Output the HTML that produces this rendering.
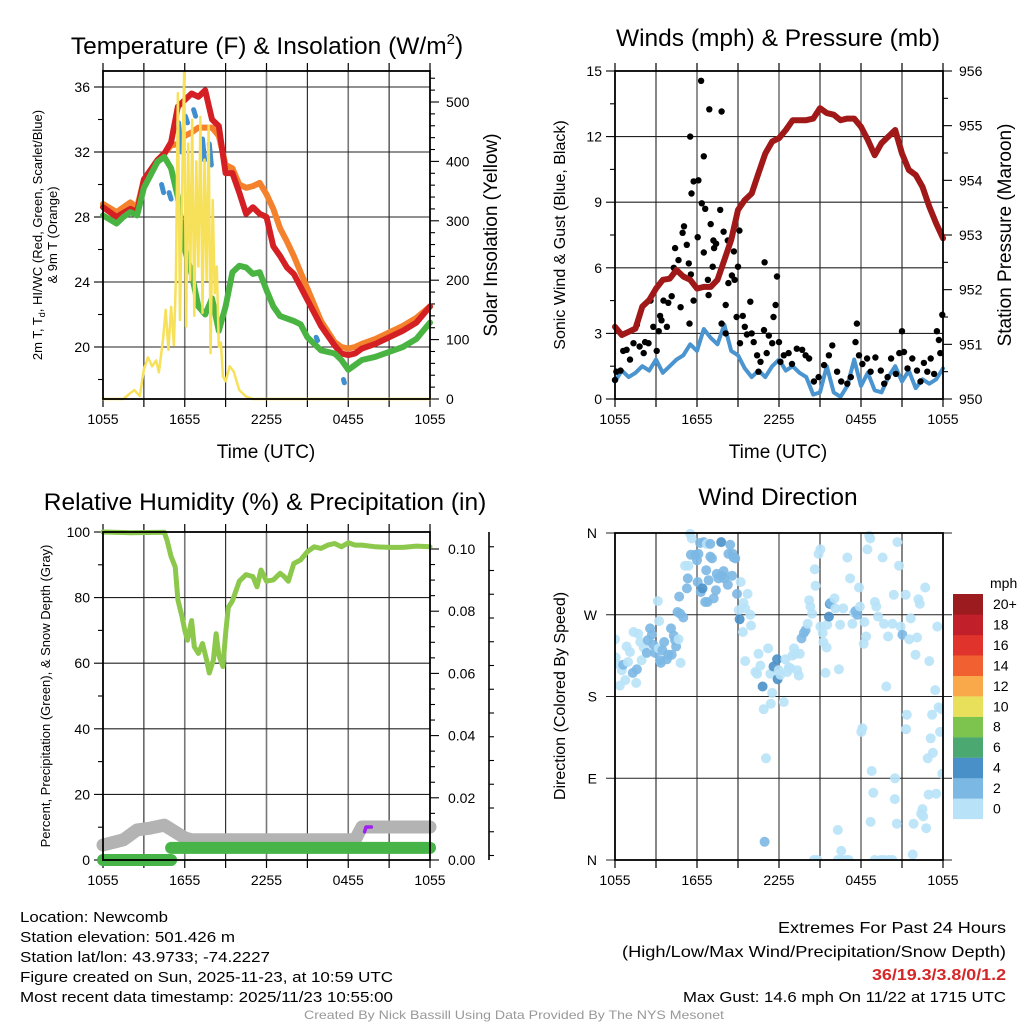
<!DOCTYPE html>
<html><head><meta charset="utf-8">
<style>
html,body{margin:0;padding:0;background:#fff;}
svg{display:block;font-family:"Liberation Sans",sans-serif;}
.nar{font-family:"Liberation Sans Narrow","Liberation Sans",sans-serif;}
</style></head>
<body>
<svg id="chart" xmlns="http://www.w3.org/2000/svg" width="1024" height="1024" viewBox="0 0 1024 1024">
<rect x="0" y="0" width="1024" height="1024" fill="#fff"/>
<g id="g1"></g>
<g id="g2"></g>
<g id="g3"></g>
<g id="g4"></g>

<text x="267" y="54" font-size="24.5" text-anchor="middle">Temperature (F) &amp; Insolation (W/m<tspan dy="-10" font-size="15">2</tspan><tspan dy="10">)</tspan></text>
<text x="778" y="46" font-size="24.5" text-anchor="middle">Winds (mph) &amp; Pressure (mb)</text>
<text x="265" y="510" font-size="24.5" text-anchor="middle">Relative Humidity (%) &amp; Precipitation (in)</text>
<text x="778" y="505" font-size="24.5" text-anchor="middle">Wind Direction</text>

<text transform="translate(42,235) rotate(-90)" font-size="13" text-anchor="middle">2m T, T<tspan dy="3" font-size="9">d</tspan><tspan dy="-3">, HI/WC (Red, Green, Scarlet/Blue)</tspan></text>
<text transform="translate(57,235) rotate(-90)" font-size="13" text-anchor="middle">&amp; 9m T (Orange)</text>
<text transform="translate(497,235) rotate(-90)" font-size="19" text-anchor="middle">Solar Insolation (Yellow)</text>
<text x="266" y="458" font-size="19" text-anchor="middle">Time (UTC)</text>
<text transform="translate(565,235) rotate(-90)" font-size="16" text-anchor="middle">Sonic Wind &amp; Gust (Blue, Black)</text>
<text transform="translate(1011,235) rotate(-90)" font-size="19" text-anchor="middle">Station Pressure (Maroon)</text>
<text x="778" y="458" font-size="19" text-anchor="middle">Time (UTC)</text>
<text transform="translate(50,696) rotate(-90)" font-size="13" text-anchor="middle">Percent, Precipitation (Green), &amp; Snow Depth (Gray)</text>
<text transform="translate(565,696) rotate(-90)" font-size="16" text-anchor="middle">Direction (Colored By Speed)</text>

<g id="cbar"></g>
<text x="990" y="588" font-size="14">mph</text>

<g class="nar" font-size="15">
<text x="20" y="922" textLength="148" lengthAdjust="spacingAndGlyphs">Location: Newcomb</text>
<text x="20" y="942" textLength="215" lengthAdjust="spacingAndGlyphs">Station elevation: 501.426 m</text>
<text x="20" y="962" textLength="250" lengthAdjust="spacingAndGlyphs">Station lat/lon: 43.9733; -74.2227</text>
<text x="20" y="982" textLength="373" lengthAdjust="spacingAndGlyphs">Figure created on Sun, 2025-11-23, at 10:59 UTC</text>
<text x="20" y="1002" textLength="373" lengthAdjust="spacingAndGlyphs">Most recent data timestamp: 2025/11/23 10:55:00</text>
</g>
<g class="nar" font-size="16">
<text x="778" y="933" textLength="228" lengthAdjust="spacingAndGlyphs">Extremes For Past 24 Hours</text>
<text x="622" y="957" textLength="384" lengthAdjust="spacingAndGlyphs">(High/Low/Max Wind/Precipitation/Snow Depth)</text>
<text x="872" y="980" textLength="134" lengthAdjust="spacingAndGlyphs" font-weight="bold" fill="#d62728">36/19.3/3.8/0/1.2</text>
<text x="683" y="1002" font-size="15" textLength="323" lengthAdjust="spacingAndGlyphs">Max Gust: 14.6 mph On 11/22 at 1715 UTC</text>
</g>
<text class="nar" x="304" y="1019" font-size="12" fill="#999" textLength="420" lengthAdjust="spacingAndGlyphs">Created By Nick Bassill Using Data Provided By The NYS Mesonet</text>
</svg>
<script>
// ---------- Temperature panel data ----------
const tHours=[0,1,2,2.5,3,4,4.5,5,5.5,6,6.5,7,7.5,8,8.5,9,9.5,10,10.5,11,11.5,12,12.5,13,13.5,14,15,16,17,17.5,18,18.5,19,20,21,22,23,24];
const tRed=[28.6,28.0,28.5,28.3,30.3,31.5,31.9,32.6,34.8,35.2,35.6,35.4,35.8,34.0,33.6,30.7,30.7,29.5,28.2,28.6,28.2,28.0,26.2,25.6,24.9,24.5,22.9,21.3,20.1,19.6,19.5,19.6,19.9,20.2,20.6,21.0,21.5,22.5];
const tOrange=[28.8,28.3,28.9,28.6,30.3,31.5,31.9,32.4,32.5,33.0,33.2,33.5,33.5,33.5,33.0,31.2,31.0,30.0,29.8,29.9,30.1,29.4,28.5,27.3,26.5,25.6,23.6,21.6,20.3,20.0,19.9,20.0,20.2,20.5,20.9,21.3,21.8,22.5];
const tdHours=[0,1,1.5,2,2.5,3,4,4.5,5,5.5,6,6.5,7,7.5,8,8.5,9,9.5,10,10.5,11,11.5,12,12.5,13,14,14.5,15,16,17,17.5,18,18.5,19,20,21,22,23,24];
const tDew=[28.1,27.6,28.0,28.3,28.1,29.8,31.4,31.7,31.0,29.2,26.0,24.5,22.5,22.0,23.0,21.0,22.5,24.6,25.0,24.9,24.5,24.6,23.5,22.5,21.9,21.6,21.4,20.6,19.8,19.6,19.2,18.6,18.9,19.2,19.4,19.7,20.0,20.5,21.5];
const hiHours=[4.3,4.45,null,4.85,5.0,null,5.55,5.75,null,6.05,6.2,null,6.65,6.8,null,7.3,7.45,null,7.8,7.95,null,15.65,15.75,null,17.65,17.72];
const hiVals=[30.0,29.5,null,29.5,29.1,null,33.8,32.0,null,34.2,33.8,null,34.6,34.2,null,32.8,31.5,null,32.5,31.2,null,20.6,20.4,null,18.0,17.8];
const solHours=[0,1.5,2,2.3,2.7,3,3.3,3.6,3.9,4.1,4.4,4.6,4.8,5.0,5.2,5.35,5.5,5.65,5.8,5.95,6.1,6.25,6.4,6.55,6.7,6.85,7.0,7.15,7.3,7.45,7.6,7.75,7.9,8.05,8.2,8.35,8.5,8.65,8.8,9.0,9.3,9.6,10,10.5,11,24];
const solVals=[0,0,10,15,5,50,70,55,65,45,100,150,83,155,90,205,515,133,345,550,122,430,200,470,140,400,223,475,145,403,200,460,77,335,178,223,88,95,38,30,55,46,15,4,0,0];
const tTicks=[20,24,28,32,36];
const solTicks=[0,100,200,300,400,500];
const timeLabels=["1055","1655","2255","0455","1055"];

// ---------- Wind panel data ----------
const wHours=[0,0.5,1,1.5,2,2.5,3,3.5,4,4.5,5,5.5,6,6.5,7,7.5,8,8.5,9,9.5,10,10.5,11,11.5,12,12.5,13,13.5,14,14.5,15,15.5,16,16.5,17,17.5,18,18.5,19,19.5,20,20.5,21,21.5,22,22.5,23,23.5,24];
const pressure=[951.32,951.17,951.23,951.29,951.69,951.81,952.02,952.18,952.2,952.36,952.24,952.18,952.02,952.05,952.05,952.18,952.54,952.91,953.46,953.64,953.76,954.13,954.49,954.71,954.77,954.92,955.10,955.10,955.10,955.13,955.32,955.23,955.2,955.1,955.13,955.13,954.98,954.74,954.46,954.68,954.8,954.92,954.49,954.19,954.1,953.88,953.52,953.21,952.94];
const sonicWind=[0.8,1.3,1.0,1.2,1.5,1.3,1.8,1.2,1.5,1.8,2.0,2.5,2.2,3.2,2.8,2.5,3.4,2.2,2.0,1.4,1.0,1.3,1.0,1.5,1.8,1.3,1.5,1.2,1.0,0.2,0.3,1.5,0.3,0.1,0.6,1.8,0.6,1.2,0.4,0.3,1.0,1.5,0.8,1.3,0.5,0.9,0.7,0.9,1.4];
const gustHours=[0,0.1,0.4,0.6,0.85,1.1,1.35,1.6,1.8,2.1,2.2,2.45,2.6,2.8,3.05,3.2,3.3,3.4,3.55,3.8,3.9,4.15,4.3,4.4,4.65,4.8,4.95,5.05,5.25,5.4,5.45,5.55,5.75,5.5,5.6,5.75,6.1,6.3,6.5,6.35,6.6,6.05,6.5,7.0,6.9,7.8,7.2,7.4,7.25,7.15,6.8,6.85,7.7,7.95,8.1,7.8,8.1,8.25,8.3,8.55,8.7,8.75,9.0,9.1,8.9,9.15,9.35,9.5,9.65,9.9,10.0,10.15,10.4,10.5,10.65,10.9,10.95,11.1,11.25,11.5,11.6,11.75,11.85,12.0,12.1,12.35,12.7,12.95,13.3,13.7,13.95,14.2,14.55,14.9,15.3,15.65,15.9,16.25,16.55,17.0,17.25,17.6,17.7,17.85,18.1,18.45,18.7,19.05,19.45,19.7,19.95,20.2,20.55,20.8,21.0,21.15,21.4,21.75,22.1,22.35,22.6,22.85,23.1,23.35,23.55,23.7,23.8,23.95];
const gustVals=[0.87,1.25,1.3,2.2,2.25,1.8,2.55,3.4,2.4,2.1,2.6,2.55,4.5,3.3,2.2,3.1,3.8,3.6,4.5,3.3,4.4,4.7,6.0,6.9,6.35,4.2,7.6,7.9,7.05,6.2,3.45,5.7,4.5,12.0,9.4,9.95,10.0,14.55,11.1,8.95,8.7,7.4,6.7,8.0,13.25,13.15,7.25,7.1,6.9,6.05,5.45,4.75,8.65,7.65,4.3,3.45,3.0,7.25,5.3,5.65,6.75,5.45,6.05,7.7,3.75,2.55,3.8,3.3,2.95,4.45,3.0,2.6,2.0,1.25,1.7,3.15,6.25,2.1,2.9,2.55,3.75,4.3,5.6,2.6,1.7,2.0,2.1,1.6,2.3,2.25,2.0,1.85,0.8,1.0,1.55,2.0,2.45,1.25,0.8,0.7,1.0,2.6,3.45,2.0,1.6,1.85,1.25,1.9,1.3,0.7,1.0,1.85,1.15,2.1,3.1,2.15,1.4,1.85,1.3,0.8,1.65,1.25,1.85,1.15,3.1,2.7,2.1,3.85];
const windTicks=[0,3,6,9,12,15];
const presTicks=[950,951,952,953,954,955,956];

// ---------- Humidity panel data ----------
const rhHours=[0,2,4.5,4.7,5,5.3,5.5,5.8,6,6.2,6.5,6.7,7,7.3,7.6,7.8,8.1,8.3,8.5,8.8,9,9.2,9.5,10,10.5,11,11.3,11.6,12,12.5,13,13.3,13.6,14,14.5,15,15.5,16,16.5,17,17.5,18,18.5,19,20,21,22,23,24];
const rhVals=[100,99.8,99.9,97.5,92.5,89.4,79.3,74.2,70,67,73,65,63,66,61,57,61,69,62.5,59,69,77,79,85,87,86.4,83.3,88.4,85,85.4,87.4,86.4,85,90.4,91.5,94,95.5,95,96,96.5,95.5,96.7,96,96,95.5,95.3,95.3,95.7,95.5];
const precipHours=[0,5,null,5,24];
const precipVals=[0,0,null,0.0039,0.0039];
const snowHours=[0,1.5,2.5,3.5,4.5,5,6,6.5,7,18.5,19,24];
const snowVals=[0.82,0.93,1.14,1.18,1.24,1.15,0.97,0.93,0.93,0.93,1.2,1.2];
const swHours=[19.2,19.3,19.7];
const swVals=[1.1,1.2,1.2];
const rhTicks=[0,20,40,60,80,100];
const precipTicks=[0,0.02,0.04,0.06,0.08,0.10];
const precipTickLabels=["0.00","0.02","0.04","0.06","0.08","0.10"];
const snowTicks=[2,4,6];
const snowTickLabels=["2.0","4.0","6.0"];

// ---------- Direction panel data ----------
const dirHours=[0,0.05,0.1,0.35,0.5,0.6,0.75,0.85,0.95,1.1,1.3,1.35,1.6,1.55,1.7,1.85,1.95,2.1,2.33,2.4,2.57,2.7,2.8,2.93,3.13,3.23,3.2,3.3,3.35,3.47,3.6,3.8,3.9,4.1,4.15,4.3,4.4,4.47,4.65,4.8,
4.57,4.77,5.0,4.7,5.13,5.38,5.26,5.33,5.5,5.62,5.55,5.87,6.0,6.1,6.05,6.23,6.48,6.72,6.97,6.28,6.4,6.6,6.77,6.85,6.67,6.97,7.1,7.22,7.38,7.45,7.57,7.77,7.82,7.95,8.0,8.25,8.43,8.3,8.63,8.68,8.8,8.93,8.57,9.2,9.05,9.12,9.4,9.36,9.53,9.7,9.9,9.95,9.53,
10.27,10.5,10.4,10.64,10.8,10.88,11.05,10.95,11.2,11.37,11.5,11.4,11.6,11.86,11.9,11.98,12.1,12.35,12.47,12.6,12.72,12.84,12.97,13.1,13.2,13.33,13.52,13.45,13.65,13.82,13.95,14.1,14.2,14.3,14.42,14.62,14.67,14.9,15.03,15.03,15.2,15.25,15.4,15.48,15.53,15.65,15.72,15.77,16.06,16.13,16.3,16.38,16.47,16.55,16.7,17.0,17.2,17.37,17.5,17.6,17.73,17.85,17.92,18.02,18.1,18.2,18.25,18.37,18.47,18.6,18.67,18.78,18.7,18.9,19.02,19.12,19.25,19.58,19.68,19.85,19.98,20.3,20.4,20.49,20.47,20.62,20.66,20.78,20.9,21.03,21.27,21.35,21.3,21.53,21.64,21.78,21.85,21.99,22.1,22.2,22.3,22.4,22.5,22.55,22.7,22.77,22.88,22.95,23.0,23.1,23.2,23.26,23.43,23.5,23.58,23.68,23.78,23.9,23.95,
14.55,14.8,16.3,16.55,16.9,17.1,19.0,19.45,19.7,20.05,20.3];
const dirVals=[243,223,216,192,209,215,198,235,218,229,206,251,210,195,249,240,220,234,228,242,255,248,237,228,285,263,233,220,217,231,240,221,226,255,226,247,242,235,243,217,
273,271,267,290,324,324,299,310,359,354,336,336,330,337,306,349,350,348,348,295,299,284,284,308,319,334,332,288,297,315,310,350,313,318,310,303,347,337,337,333,332,293,313,306,275,265,283,251,277,293,270,258,219,
207,227,205,214,191,166,112,20,233,205,184,172,213,221,199,209,204,174,221,207,212,211,225,233,227,209,227,203,244,250,253,260,286,279,271,320,302,337,342,257,250,240,206,234,259,268,282,283,288,277,33,210,259,10,277,333,310,260,272,274,270,300,279,141,145,238,262,246,342,357,354,98,42,74,284,279,268,333,260,191,246,260,292,90,67,40,350,324,257,248,292,160,144,243,266,6,40,226,245,287,282,51,56,48,300,35,112,72,219,134,160,118,187,73,257,168,141,166,95,
0,0,0,0,0,0,0,0,0,0,0];
const dirSpeeds=[1,1,1,1,1,3,1,1,1,1,3,1,3,1,1,1,1,1,3,3,3,3,3,3,1,1,1,3,3,3,3,3,3,3,3,3,3,3,1,1,
3,3,3,3,1,1,3,3,1,1,3,3,3,3,3,3,3,1,3,3,5,3,3,3,3,3,3,3,3,3,3,5,3,3,3,3,3,3,3,3,3,3,3,1,1,5,1,1,1,1,1,1,1,
1,1,1,1,5,1,1,3,1,1,1,1,5,5,5,1,1,1,1,1,1,1,1,1,1,1,1,1,3,3,3,1,1,1,1,1,1,1,1,1,1,1,1,1,1,5,5,3,1,1,1,1,1,1,1,1,1,1,1,3,3,1,1,1,1,1,1,1,1,1,1,1,1,1,1,1,1,1,1,1,1,1,1,1,1,1,1,1,1,3,1,1,1,1,1,1,1,1,1,1,1,1,1,1,1,1,1,1,1,1,1,1,1,1,1,1,1,1,1,1,1,
1,1,1,1,1,1,1,1,1,1,1];
const dirTicks=[0,90,180,270,360];
const dirTickLabels=["N","E","S","W","N"];
const cbarLabels=["0","2","4","6","8","10","12","14","16","18","20+"];
const cbarColors=["#b8e2f8","#7cb8e4","#4a90c8","#4aa870","#7dc44e","#e8e05a","#f9a84a","#f06030","#e0332b","#c1202a","#9b1b1e"];

// ---------- helpers ----------
const NS="http://www.w3.org/2000/svg";
function mk(parent,tag,attrs){const e=document.createElementNS(NS,tag);for(const k in attrs)e.setAttribute(k,attrs[k]);parent.appendChild(e);return e;}
function pathFrom(xs,ys,sx,sy){let d="",pen=false;for(let i=0;i<xs.length;i++){if(xs[i]===null||ys[i]===null){pen=false;continue;}d+=(pen?"L":"M")+sx(xs[i]).toFixed(1)+","+sy(ys[i]).toFixed(1);pen=true;}return d;}
function frame(g,L,T,R,B,topTicks){
  for(let h=3;h<24;h+=3){const x=L+(R-L)*h/24;
    const gl=mk(g,"line",{x1:x,y1:T,x2:x,y2:B,stroke:h%6===0?"#777":"#222","stroke-width":h%6===0?1.6:1.1});
    
    }
  for(let h=0;h<=24;h+=3){const x=L+(R-L)*h/24;
    const t1=mk(g,"line",{x1:x,y1:B,x2:x,y2:B+8,stroke:"#000","stroke-width":1.2});
    
    
    if(topTicks){const t2=mk(g,"line",{x1:x,y1:T,x2:x,y2:T-8,stroke:"#000","stroke-width":1.2});
    
    }}
  for(let i=0;i<5;i++){const x=L+(R-L)*i/4;
    const t=mk(g,"text",{x:x,y:B+25,"font-size":14,"text-anchor":"middle"});t.textContent=timeLabels[i];
    
    }
}
function hgrid(g,L,R,y){const l=mk(g,"line",{x1:L,y1:y,x2:R,y2:y,stroke:"#222","stroke-width":1.1});
  
  }
function box(g,L,T,R,B){const r=mk(g,"rect",{x:L,y:T,width:R-L,height:B-T,fill:"none",stroke:"#000","stroke-width":1.8});
  
  }
function ytick(g,x,y,len,label,anchor,lx,fs){const l=mk(g,"line",{x1:x,y1:y,x2:x+len,y2:y,stroke:"#000","stroke-width":1.1});
  
  
  if(label!==null){const t=mk(g,"text",{x:lx,y:y+5,"font-size":fs||14,"text-anchor":anchor});t.textContent=label;
  
  }}
function series(g,d,color,w,name,extra){const p=mk(g,"path",Object.assign({d:d,fill:"none",stroke:color,"stroke-width":w,"stroke-linejoin":"round","stroke-linecap":"round"},extra||{}));
  
  return p;}

// ---------- Panel 1 ----------
(function(){
  const g=document.getElementById("g1");const L=103,R=430,T=71,B=399;
  const sx=h=>L+(R-L)*h/24;const sy=v=>87+(36-v)*(260/16);const sy2=v=>399-v*0.594;
  frame(g,L,T,R,B,true);
  tTicks.forEach(v=>hgrid(g,L,R,sy(v)));
  for(let v=18;v<=36;v+=2){ytick(g,L,sy(v),v%4===0?-9:-5,v%4===0?String(v):null,"end",L-13);}
  for(let v=0;v<=540;v+=20){const maj=solTicks.indexOf(v)>=0;ytick(g,R,sy2(v),maj?9:5,maj?String(v):null,"start",R+16);}
  series(g,pathFrom(tHours,tOrange,sx,sy),"#f4812c",6,"temperature-9m-line");
  series(g,pathFrom(tHours,tRed,sx,sy),"#d42024",6,"temperature-2m-line");
  series(g,pathFrom(tdHours,tDew,sx,sy),"#4ab442",6,"dewpoint-line");
  series(g,pathFrom(hiHours,hiVals,sx,sy),"#3f8fd0",5,"heat-index-windchill-line");
  series(g,pathFrom(solHours,solVals,sx,sy2),"#f7e05a",2.5,"solar-insolation-line");
  box(g,L,T,R,B);
})();

// ---------- Panel 2 ----------
(function(){
  const g=document.getElementById("g2");const L=615,R=943,T=71,B=399;
  const sx=h=>L+(R-L)*h/24;const sy=v=>B-v*(328/15);const sy2=v=>B-(v-950)*(328/6);
  frame(g,L,T,R,B,true);
  windTicks.forEach(v=>{if(v>0&&v<15)hgrid(g,L,R,sy(v));});
  for(let v=0;v<=15;v+=1.5){const maj=windTicks.indexOf(v)>=0;ytick(g,L,sy(v),maj?-9:-5,maj?String(v):null,"end",L-13);}
  for(let v=950;v<=956.001;v+=0.5){const r=Math.round(v*2)/2;const maj=presTicks.indexOf(r)>=0;ytick(g,R,sy2(r),maj?9:5,maj?String(r):null,"start",R+16);}
  series(g,pathFrom(wHours,sonicWind,sx,sy),"#4a94d0",4,"sonic-wind-line");
  for(let i=0;i<gustHours.length;i++){
    const c=mk(g,"circle",{cx:sx(gustHours[i]).toFixed(1),cy:sy(gustVals[i]).toFixed(1),r:3.2,fill:"#000"});
    
    
  }
  series(g,pathFrom(wHours,pressure,sx,sy2),"#a01818",6,"pressure-line");
  box(g,L,T,R,B);
})();

// ---------- Panel 3 ----------
(function(){
  const g=document.getElementById("g3");const L=103,R=430,T=532,B=860;
  const sx=h=>L+(R-L)*h/24;const sy=v=>B-v*3.28;const sp=v=>B-v*3110;const ss=v=>884-v*47.5;
  frame(g,L,T,R,B,true);
  rhTicks.forEach(v=>{if(v>0&&v<100)hgrid(g,L,R,sy(v));});
  for(let v=0;v<=100;v+=10){const maj=rhTicks.indexOf(v)>=0;ytick(g,L,sy(v),maj?-9:-5,maj?String(v):null,"end",L-13);}
  for(let v=0;v<=0.105;v+=0.005){const r=Math.round(v*1000)/1000;const k=precipTicks.findIndex(t=>Math.abs(t-r)<1e-6);ytick(g,R,sp(r),k>=0?9:5,k>=0?precipTickLabels[k]:null,"start",R+18);}
  const ax=mk(g,"line",{x1:489,y1:532,x2:489,y2:860,stroke:"#000","stroke-width":1.6});
  
  
  for(let v=0.6;v<=7.4;v+=0.5){const r=Math.round(v*10)/10;const k=snowTicks.indexOf(r);ytick(g,489,ss(r),k>=0?8:5,k>=0?snowTickLabels[k]:null,"start",505);}
  series(g,pathFrom(rhHours,rhVals,sx,sy),"#8cc84b",5,"relative-humidity-line");
  series(g,pathFrom(snowHours,snowVals,sx,ss),"#b3b3b3",13,"snow-depth-line");
  series(g,pathFrom(precipHours,precipVals,sx,sp),"#46b446",12,"precipitation-line");
  series(g,pathFrom(swHours,swVals,sx,ss),"#a020f0",3.5,"snow-water-line");
  box(g,L,T,R,B);
})();

// ---------- Panel 4 ----------
(function(){
  const g=document.getElementById("g4");const L=615,R=943,T=533,B=860;
  const sx=h=>L+(R-L)*h/24;const sy=d=>B-d*(B-T)/360;
  frame(g,L,T,R,B,false);
  dirTicks.forEach((d,i)=>{hgrid(g,L-9,R+9,sy(d));const t=mk(g,"text",{x:L-18,y:sy(d)+5,"font-size":14,"text-anchor":"end"});t.textContent=dirTickLabels[i];
    
    });
  mk(g,"clipPath",{id:"clip4"}).appendChild(document.createElementNS(NS,"rect"));
  const cr=g.querySelector("#clip4 rect");cr.setAttribute("x",L);cr.setAttribute("y",T-6);cr.setAttribute("width",R-L);cr.setAttribute("height",B-T+6);
  const pts=mk(g,"g",{"clip-path":"url(#clip4)"});
  
  
  for(let i=0;i<dirHours.length;i++){
    const bin=Math.min(10,Math.floor(dirSpeeds[i]/2));
    const c=mk(pts,"circle",{cx:sx(dirHours[i]).toFixed(1),cy:sy(dirVals[i]).toFixed(1),r:5,fill:cbarColors[bin],"fill-opacity":0.9});
    
    
  }
  box(g,L,T,R,B);
  const cb=document.getElementById("cbar");
  for(let i=0;i<cbarColors.length;i++){const y=594+(10-i)*20.45;
    const r=mk(cb,"rect",{x:953,y:y.toFixed(1),width:30,height:20.6,fill:cbarColors[i]});
    
    
    const t=mk(cb,"text",{x:993,y:(y+15).toFixed(1),"font-size":14});t.textContent=cbarLabels[i];
    
    }
})();
</script>
</body></html>
